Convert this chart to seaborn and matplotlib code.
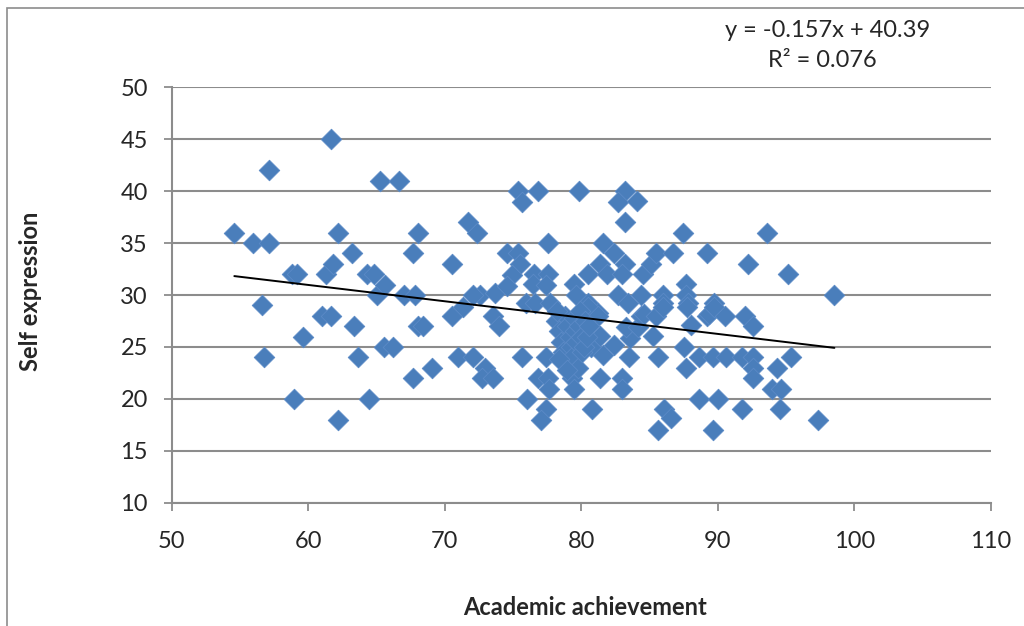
import matplotlib
matplotlib.use("Agg")
import matplotlib.pyplot as plt
from matplotlib.patches import Rectangle
import numpy as np
import pandas as pd
import seaborn as sns

# academic achievement (x) and self expression (y)
achievement = [
    54.6, 56.0, 57.15, 57.15, 56.6, 56.8, 58.85, 59.2, 59.0, 59.6,
    61.05, 61.65, 61.35, 61.85, 61.65, 62.2, 62.2, 63.25, 63.35, 63.65,
    64.35, 64.85, 64.45, 65.05, 65.25, 65.6, 65.55, 66.25, 66.65, 67.05,
    67.85, 68.05, 67.65, 68.05, 68.45, 67.65, 69.05, 70.55, 70.55, 70.95,
    71.35, 71.75, 72.35, 72.05, 72.6, 72.05, 73.7, 72.95, 72.75, 73.55,
    73.55, 73.95, 74.55, 75.4, 75.55, 74.95, 74.55, 75.4, 75.65, 76.85,
    76.55, 77.55, 76.45, 77.4, 77.55, 75.95, 76.65, 77.75, 75.7, 77.4,
    76.85, 77.55, 77.65, 76.05, 77.45, 77.05, 79.35, 79.45, 79.85, 79.45,
    79.65, 80.5, 80.5, 81.2, 80.5, 81.2, 80.8, 81.4, 81.9, 81.6,
    82.4, 83.25, 83.0, 82.7, 83.2, 82.7, 84.1, 83.2, 81.4, 83.0,
    83.0, 80.7, 81.6, 83.5, 81.4, 82.4, 83.6, 83.3, 84.2, 83.4,
    84.4, 84.5, 85.1, 85.5, 86.7, 84.4, 84.6, 85.5, 85.3, 85.6,
    86.0, 86.0, 86.0, 86.1, 86.6, 85.6, 87.45, 87.65, 87.65, 87.85,
    87.75, 88.05, 87.5, 87.65, 88.65, 89.2, 89.25, 89.35, 89.75, 89.75,
    89.65, 88.65, 90.05, 89.65, 90.55, 92.0, 92.2, 92.6, 90.6, 91.8,
    92.6, 92.6, 92.6, 91.8, 93.6, 93.95, 94.65, 94.35, 94.55, 95.15,
    95.35, 97.35, 98.55,
    78.15, 78.35, 78.55, 78.65, 78.85, 78.95, 79.15, 79.25, 79.35, 79.45,
    79.55, 79.65, 79.75, 79.85, 79.95, 80.0, 80.1, 80.2, 80.3, 80.4,
    80.6, 78.35, 78.95, 78.25,
]
self_expression = [
    36, 35, 35, 42, 29, 24, 32, 32, 20, 26,
    28, 28, 32, 33, 45, 36, 18, 34, 27, 24,
    32, 32, 20, 30, 41, 31, 25, 25, 41, 30,
    30, 36, 34, 27, 27, 22, 23, 33, 28, 24,
    28.8, 37, 36, 24, 30, 30, 30.2, 23, 22, 22,
    28, 27, 34, 34, 33, 31.9, 30.9, 40, 38.9, 40,
    32, 32, 31.1, 31, 35, 29.2, 29.2, 29.2, 24, 24,
    22, 22, 21, 20, 19, 18, 22, 21, 40, 31.1,
    30, 32, 29.2, 28.3, 28.8, 28, 19, 33, 32, 35,
    34, 33, 32, 30, 40, 38.9, 39, 37, 22, 22,
    21, 25, 24.2, 24, 26.1, 25.2, 25.9, 26.9, 26.9, 29.2,
    30, 32, 33, 34, 34, 28, 28.2, 28, 26.1, 24,
    30, 29.2, 28.8, 19, 18.2, 17, 36, 31.1, 30, 29.2,
    28.8, 27.1, 25, 23, 24, 34, 28, 28.2, 29.2, 28.8,
    24, 20, 20, 17, 28, 28, 33, 27, 24, 24,
    24, 23, 22, 19, 36, 21, 21, 23, 19, 32,
    24, 18, 30,
    27.5, 26.5, 25.5, 24.5, 28, 27, 26, 25, 24, 27.8,
    26.5, 25.5, 23, 27, 28.5, 26, 24.5, 25, 27.5, 26,
    27, 23.8, 22.8, 28.5,
]
slope = -0.157
intercept = 40.39
x_ticks = [50, 60, 70, 80, 90, 100, 110]
y_ticks = [10, 15, 20, 25, 30, 35, 40, 45, 50]

df = pd.DataFrame({"Academic achievement": achievement,
                   "Self expression": self_expression})

sns.set_style("white")
plt.rcParams["font.family"] = ["Lato", "DejaVu Sans"]

fig = plt.figure(figsize=(10.24, 6.26), dpi=100)
ax = fig.add_axes([0.1675, 0.1965, 0.800, 0.6645])

# chart area border (cropped at right/bottom like the screenshot)
fig.patches.append(Rectangle((0.007, -0.1), 1.2, 1.1 - 8 / 626,
                             transform=fig.transFigure, fill=False,
                             ec="#8c8c8c", lw=1.2, clip_on=False))

sns.scatterplot(data=df, x="Academic achievement", y="Self expression",
                marker="D", s=110, color="#4a7ebb", edgecolor="#5b8ac6",
                linewidth=0.6, ax=ax, zorder=3)

# linear trend line from the equation shown on the chart
xs = np.array([min(achievement), max(achievement)])
trend = pd.DataFrame({"x": xs, "y": slope * xs + intercept})
sns.lineplot(data=trend, x="x", y="y", color="black", lw=1.4, ax=ax, zorder=4)

ax.set_xlim(50, 110)
ax.set_ylim(10, 50)
ax.set_xticks(x_ticks)
ax.set_yticks(y_ticks)
ax.yaxis.grid(True, color="#8c8c8c", lw=1.5)
ax.set_axisbelow(True)
for s in ["top", "right"]:
    ax.spines[s].set_visible(False)
for s in ["left", "bottom"]:
    ax.spines[s].set_color("#8c8c8c")
    ax.spines[s].set_linewidth(1.5)
ax.tick_params(axis="both", labelsize=17, length=6, color="#8c8c8c",
               width=1.3, direction="out", left=True, bottom=True)
ax.tick_params(axis="x", pad=14)
ax.tick_params(axis="y", pad=11)
ax.set_xlabel("")
ax.set_ylabel("")

fig.text(0.571, 0.030, "Academic achievement", ha="center", va="center",
         fontsize=17, fontweight="bold")
fig.text(0.030, 0.535, "Self expression", ha="center", va="center",
         fontsize=17, fontweight="bold", rotation=90)
fig.text(0.808, 0.952, "y = -0.157x + 40.39", ha="center", va="center",
         fontsize=17)
fig.text(0.803, 0.903, "R² = 0.076", ha="center", va="center", fontsize=17)

fig.savefig("out.png", dpi=100)
